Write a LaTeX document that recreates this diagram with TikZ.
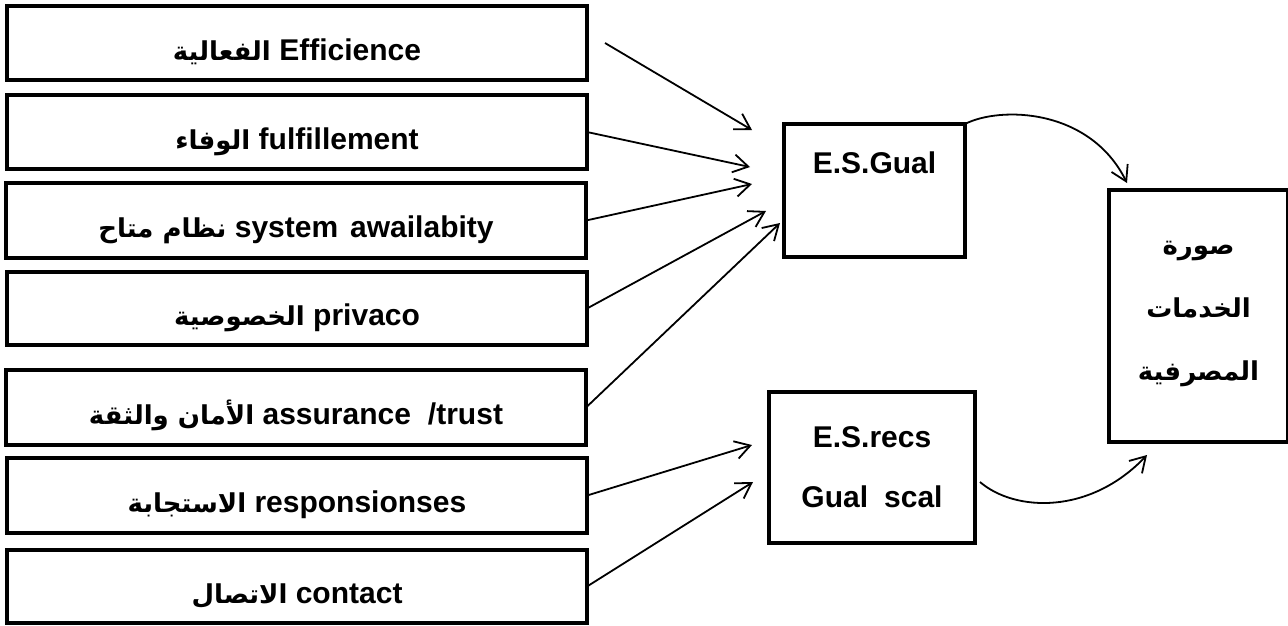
\documentclass[tikz,border=0pt]{standalone}
\usepackage{fontspec}
\setmainfont{Liberation Sans}
\newfontfamily\arabicfont[Script=Arabic]{DejaVu Sans}
\TeXXeTstate=1
\usetikzlibrary{arrows.meta}
\newcommand{\artxt}[1]{{\fontsize{26}{30}\selectfont\arabicfont\beginR #1\endR}}
\begin{document}
\begin{tikzpicture}[x=1pt,y=-1pt,
  box/.style={draw, line width=4.5pt, inner sep=0pt, outer sep=0pt,
    font=\fontsize{30}{36}\selectfont\bfseries},
  lbox/.style={box, minimum width=580pt, text height=34pt, text depth=0pt},
  arr/.style={line width=1.8pt, -{Straight Barb[length=15pt,width=18pt,line width=1.8pt]}}]
\useasboundingbox (0,0) rectangle (1288,625);
% left boxes
\node[lbox, minimum height=74pt] (b1) at (297,43) {\artxt{الفعالية} Efficience};
\node[lbox, minimum height=74pt] (b2) at (297,132) {\artxt{الوفاء} fulfillement};
\node[lbox, minimum height=75pt] (b3) at (296,220.5) {\artxt{نظام متاح} system\hspace{12pt}awailabity};
\node[lbox, minimum height=73pt] (b4) at (297,308.5) {\artxt{الخصوصية} privaco};
\node[lbox, minimum height=75pt] (b5) at (296,407.5) {\artxt{الأمان والثقة} assurance\hspace{17pt}/trust};
\node[lbox, minimum height=75pt] (b6) at (297,495.5) {\artxt{الاستجابة} responsionses};
\node[lbox, minimum height=73pt] (b7) at (297,586.5) {\artxt{الاتصال} contact};
% middle boxes
\node[box, minimum width=181pt, minimum height=133pt, text height=0pt, text depth=35pt] (esgual) at (874.5,190.5) {E.S.Gual};
\node[box, minimum width=206pt, minimum height=151pt, align=center,
  font=\fontsize{30}{60}\selectfont\bfseries] (esrecs) at (872,467.5) {E.S.recs\\Gual\hspace{16pt}scal};
% right box
\node[box, minimum width=179pt, minimum height=252pt, align=center,
  font=\fontsize{26}{63}\selectfont\bfseries\arabicfont] (img) at (1198.5,316)
  {\beginR صورة\endR\\\beginR الخدمات\endR\\\beginR المصرفية\endR\\[-53pt]};
% arrow end points
\coordinate (s1) at ([xshift=18pt]b1.east);
\coordinate (t1) at (752,130);
\coordinate (t2) at (750,167);
\coordinate (t3) at (752,184);
\coordinate (t4) at (766,211);
\coordinate (t5) at (780,223);
\coordinate (t6) at (752,445);
\coordinate (t7) at (753,482);
\draw[arr] (s1) -- (t1);
\draw[arr] (b2.east) -- (t2);
\draw[arr] (b3.east) -- (t3);
\draw[arr] (b4.east) -- (t4);
\draw[arr] (b5.east) -- (t5);
\draw[arr] (b6.east) -- (t6);
\draw[arr] (b7.east) -- (t7);
\draw[arr] (esgual.north east) .. controls (1000,106) and (1090,108) .. ([xshift=18pt,yshift=7pt]img.north west);
\draw[arr] ([xshift=5pt,yshift=-14.5pt]esrecs.east) .. controls (1015,512) and (1090,515) .. ([xshift=38pt,yshift=-13pt]img.south west);
\end{tikzpicture}
\end{document}
